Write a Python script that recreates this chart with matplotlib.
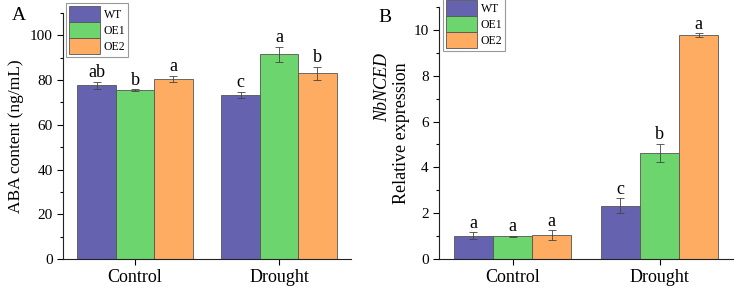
import numpy as np
import matplotlib
matplotlib.use('Agg')
import matplotlib.pyplot as plt
from matplotlib.ticker import MultipleLocator

plt.rcParams['font.family'] = ['Liberation Serif', 'DejaVu Serif']

groups = ['Control', 'Drought']
lines = ['WT', 'OE1', 'OE2']
colors = ['#6562b0', '#6dd56e', '#fdac62']

aba_mean = {'WT': [77.7, 73.5], 'OE1': [75.6, 91.5], 'OE2': [80.6, 83.1]}
aba_err = {'WT': [1.5, 1.3], 'OE1': [0.4, 3.4], 'OE2': [1.4, 2.9]}
aba_sig = {'WT': ['ab', 'c'], 'OE1': ['b', 'a'], 'OE2': ['a', 'b']}

nced_mean = {'WT': [1.01, 2.33], 'OE1': [0.99, 4.64], 'OE2': [1.03, 9.77]}
nced_err = {'WT': [0.15, 0.32], 'OE1': [0.03, 0.40], 'OE2': [0.22, 0.08]}
nced_sig = {'WT': ['a', 'c'], 'OE1': ['a', 'b'], 'OE2': ['a', 'a']}


def panel(ax, means, errs, sigs, ymax, major, minor, off):
    x = np.arange(len(groups))
    w = 0.267
    for i, (name, c) in enumerate(zip(lines, colors)):
        xs = x + (i - 1) * w
        ax.bar(xs, means[name], w, color=c, edgecolor='#555555', linewidth=0.6,
               label=name, zorder=2)
        ax.errorbar(xs, means[name], yerr=errs[name], fmt='none', ecolor='#444444',
                    elinewidth=0.6, capsize=3, capthick=0.6, zorder=3)
        for xi, m, e, s in zip(xs, means[name], errs[name], sigs[name]):
            ax.annotate(s, (xi, m + e), xytext=(0, 0.3), textcoords='offset points',
                        ha='center', va='bottom', fontsize=13)
    ax.set_xlim(-0.5, 1.5)
    ax.set_ylim(0, ymax)
    ax.set_xticks(x)
    ax.set_xticklabels(groups, fontsize=13)
    ax.yaxis.set_major_locator(MultipleLocator(major))
    ax.yaxis.set_minor_locator(MultipleLocator(minor))
    ax.tick_params(axis='y', labelsize=11)
    ax.tick_params(which='major', direction='out', length=4, width=0.8)
    ax.tick_params(which='minor', direction='out', length=2.5, width=0.8)
    ax.tick_params(axis='x', which='minor', bottom=False)
    for s in ['top', 'right']:
        ax.spines[s].set_visible(False)
    for s in ['left', 'bottom']:
        ax.spines[s].set_linewidth(0.8)
        ax.spines[s].set_color('#222222')
    leg = ax.legend(loc='upper left', bbox_to_anchor=(off, 1.04), fontsize=8.5,
                    handlelength=2.6, handleheight=1.7, labelspacing=0,
                    handletextpad=0.3, borderpad=0.25, borderaxespad=0,
                    fancybox=False, edgecolor='#999999', framealpha=1)
    leg.get_frame().set_linewidth(0.8)


fig = plt.figure(figsize=(7.4, 2.93), dpi=100)
ax1 = fig.add_axes([63 / 740, 1 - 259 / 293, (351 - 63) / 740, (259 - 13) / 293])
ax2 = fig.add_axes([439 / 740, 1 - 259 / 293, (733 - 439) / 740, (259 - 7) / 293])

panel(ax1, aba_mean, aba_err, aba_sig, 110, 20, 10, 0.012)
panel(ax2, nced_mean, nced_err, nced_sig, 11, 2, 1, 0.015)

ax1.set_ylabel('ABA content (ng/mL)', fontsize=12.5, labelpad=4)
fig.text(402 / 740, 1 - 133 / 293, 'Relative expression', rotation=90,
         ha='center', va='center', fontsize=13)
fig.text(383 / 740, 1 - 88 / 293, 'NbNCED', rotation=90, style='italic',
         ha='center', va='center', fontsize=13)

fig.text(19 / 740, 1 - 16 / 293, 'A', ha='center', va='center', fontsize=14)
fig.text(385 / 740, 1 - 18 / 293, 'B', ha='center', va='center', fontsize=14)

fig.savefig('out.png', dpi=100)
